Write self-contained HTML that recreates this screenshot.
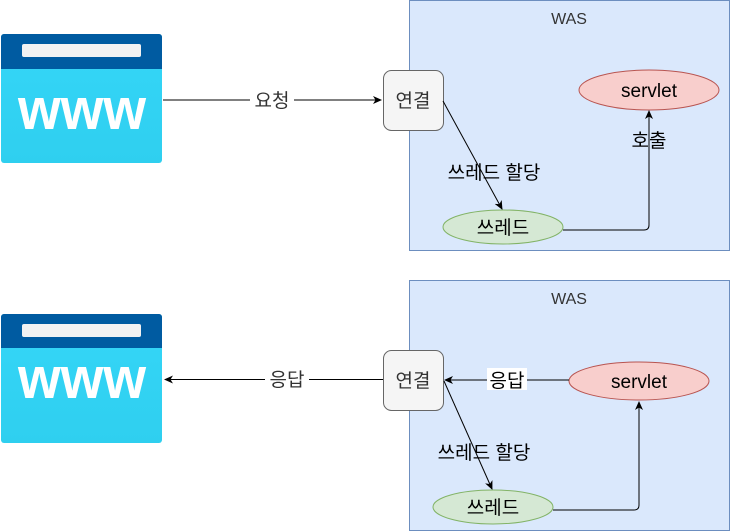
<!DOCTYPE html>
<html><head><meta charset="utf-8"><style>html,body{margin:0;padding:0;background:#fff}svg{display:block}</style></head>
<body>
<svg width="730" height="531" viewBox="0 0 730 531" xmlns="http://www.w3.org/2000/svg" font-family="'Liberation Sans','Noto Sans CJK KR',sans-serif">
<defs>
<marker id="a" markerWidth="10" markerHeight="10" refX="8" refY="5" orient="auto" markerUnits="userSpaceOnUse"><path d="M0,1 L9,5 L0,9 L2.5,5 Z" fill="#000"/></marker>
<linearGradient id="g" x1="0" y1="0" x2="0" y2="1"><stop offset="0" stop-color="#35d6f8"/><stop offset="1" stop-color="#2fcfef"/></linearGradient>
</defs>
<!-- top -->
<rect x="409.5" y="0.5" width="320" height="250" fill="#dae8fc" stroke="#6c8ebf"/>
<text x="569" y="24" font-size="16" text-anchor="middle" fill="#333">WAS</text>
<g>
<rect x="1" y="34" width="161" height="129" rx="3" fill="url(#g)"/>
<path d="M1,69 V37 a3,3 0 0 1 3,-3 H159 a3,3 0 0 1 3,3 V69 Z" fill="#005ba1"/>
<rect x="22" y="44" width="119" height="13" rx="2" fill="#f2f2f2"/>
<text x="18" y="129" font-size="58" font-weight="bold" fill="#fff" textLength="128" lengthAdjust="spacingAndGlyphs">www</text>
</g>
<line x1="163" y1="100" x2="381" y2="100" stroke="#000" marker-end="url(#a)"/>
<rect x="250" y="88" width="44" height="22" fill="#fff"/>
<text x="272" y="107" font-size="19" text-anchor="middle" fill="#333">요청</text>
<rect x="383.5" y="70.5" width="60" height="60" rx="8" fill="#f5f5f5" stroke="#666"/>
<text x="413" y="107" font-size="19" text-anchor="middle" fill="#333">연결</text>
<ellipse cx="649" cy="90" rx="70" ry="20" fill="#f8cecc" stroke="#b85450"/>
<text x="649" y="97" font-size="19" text-anchor="middle" fill="#000">servlet</text>
<ellipse cx="503" cy="227" rx="60" ry="17" fill="#d5e8d4" stroke="#82b366"/>
<text x="503" y="234" font-size="19" text-anchor="middle" fill="#000">쓰레드</text>
<line x1="443" y1="101" x2="502" y2="209" stroke="#000" marker-end="url(#a)"/>
<text x="494" y="179" font-size="19" text-anchor="middle" fill="#000">쓰레드 할당</text>
<path d="M563,230 H644 Q649,230 649,225 V111" fill="none" stroke="#000" marker-end="url(#a)"/>
<text x="649" y="147" font-size="19" text-anchor="middle" fill="#000">호출</text>
<!-- bottom -->
<rect x="409.5" y="280.5" width="320" height="250" fill="#dae8fc" stroke="#6c8ebf"/>
<text x="569" y="304" font-size="16" text-anchor="middle" fill="#333">WAS</text>
<g>
<rect x="1" y="314" width="161" height="129" rx="3" fill="url(#g)"/>
<path d="M1,348 V317 a3,3 0 0 1 3,-3 H159 a3,3 0 0 1 3,3 V348 Z" fill="#005ba1"/>
<rect x="22" y="324" width="119" height="13" rx="2" fill="#f2f2f2"/>
<text x="18" y="398" font-size="58" font-weight="bold" fill="#fff" textLength="128" lengthAdjust="spacingAndGlyphs">www</text>
</g>
<line x1="383" y1="379.5" x2="165" y2="379.5" stroke="#000" marker-end="url(#a)"/>
<rect x="265" y="368" width="44" height="22" fill="#fff"/>
<text x="287" y="386" font-size="19" text-anchor="middle" fill="#333">응답</text>
<rect x="383.5" y="350.5" width="60" height="60" rx="8" fill="#f5f5f5" stroke="#666"/>
<text x="413" y="387" font-size="19" text-anchor="middle" fill="#333">연결</text>
<ellipse cx="639" cy="381" rx="70" ry="19" fill="#f8cecc" stroke="#b85450"/>
<text x="639" y="388" font-size="19" text-anchor="middle" fill="#000">servlet</text>
<line x1="569" y1="380" x2="445" y2="380" stroke="#000" marker-end="url(#a)"/>
<rect x="487" y="368" width="40" height="22" fill="#fff"/>
<text x="507" y="387" font-size="19" text-anchor="middle" fill="#000">응답</text>
<ellipse cx="493" cy="507" rx="60" ry="17" fill="#d5e8d4" stroke="#82b366"/>
<text x="493" y="514" font-size="19" text-anchor="middle" fill="#000">쓰레드</text>
<line x1="444" y1="381" x2="492" y2="489" stroke="#000" marker-end="url(#a)"/>
<text x="484" y="459" font-size="19" text-anchor="middle" fill="#000">쓰레드 할당</text>
<path d="M553,510 H634 Q639,510 639,505 V402" fill="none" stroke="#000" marker-end="url(#a)"/>
</svg>
</body></html>
